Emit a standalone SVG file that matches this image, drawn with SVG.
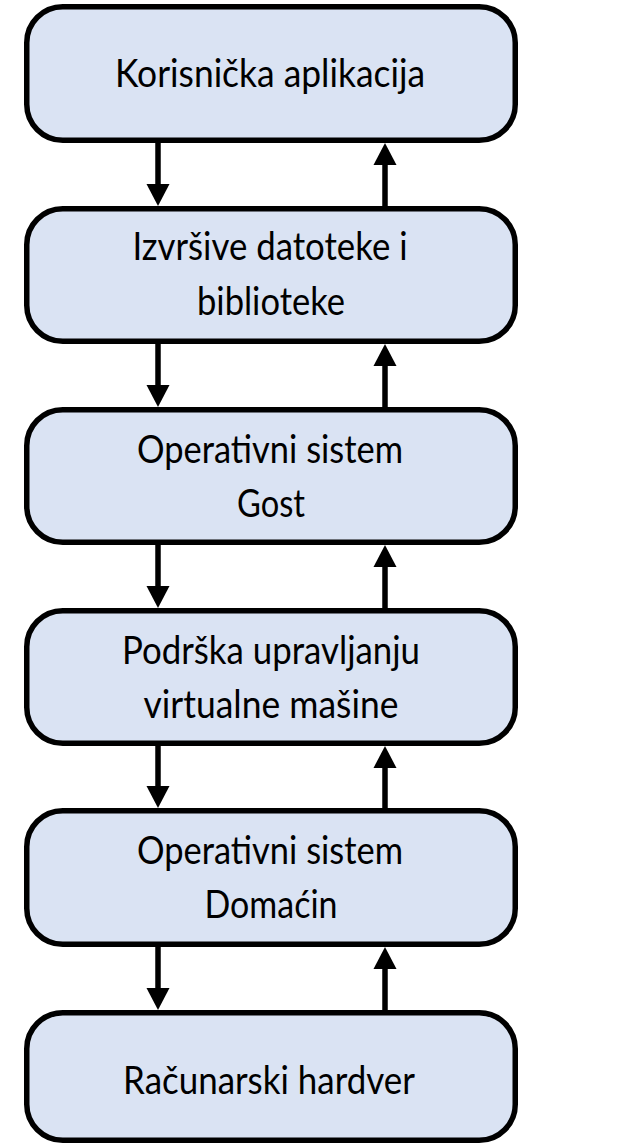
<svg xmlns="http://www.w3.org/2000/svg" width="618" height="1145" viewBox="0 0 618 1145">
  <style>
    .box { fill: #DAE3F3; stroke: #000; stroke-width: 5.5; }
    .lbl { font-family: Lato, "Open Sans", "Liberation Sans", sans-serif; font-size: 38px; fill: #000; text-anchor: middle; }
    .wire { stroke: #000; stroke-width: 5.5; fill: none; }
    .head { fill: #000; }
  </style>
  <rect width="618" height="1145" fill="#fff"/>

  <!-- layers, top to bottom -->
  <g id="korisnicka-aplikacija">
    <rect class="box" x="26.75" y="6.75" width="488.5" height="133.5" rx="36"/>
    <text class="lbl" x="270" y="87" textLength="310" lengthAdjust="spacingAndGlyphs">Korisnička aplikacija</text>
  </g>
  <g id="izvrsive-datoteke">
    <rect class="box" x="26.75" y="208.75" width="488.5" height="132.5" rx="36"/>
    <text class="lbl" x="270" y="260" textLength="275" lengthAdjust="spacingAndGlyphs">Izvršive datoteke i</text>
    <text class="lbl" x="271" y="315" textLength="148" lengthAdjust="spacingAndGlyphs">biblioteke</text>
  </g>
  <g id="os-gost">
    <rect class="box" x="26.75" y="409.75" width="488.5" height="132.5" rx="36"/>
    <text class="lbl" x="270" y="463" textLength="266" lengthAdjust="spacingAndGlyphs">Operativni sistem</text>
    <text class="lbl" x="271" y="517" textLength="68" lengthAdjust="spacingAndGlyphs">Gost</text>
  </g>
  <g id="vm-podrska">
    <rect class="box" x="26.75" y="610.75" width="488.5" height="132.5" rx="36"/>
    <text class="lbl" x="271" y="664" textLength="298" lengthAdjust="spacingAndGlyphs">Podrška upravljanju</text>
    <text class="lbl" x="271" y="718" textLength="255" lengthAdjust="spacingAndGlyphs">virtualne mašine</text>
  </g>
  <g id="os-domacin">
    <rect class="box" x="26.75" y="810.75" width="488.5" height="133.5" rx="36"/>
    <text class="lbl" x="270" y="864" textLength="266" lengthAdjust="spacingAndGlyphs">Operativni sistem</text>
    <text class="lbl" x="271" y="918" textLength="133" lengthAdjust="spacingAndGlyphs">Domaćin</text>
  </g>
  <g id="racunarski-hardver">
    <rect class="box" x="26.75" y="1012.75" width="488.5" height="127.5" rx="36"/>
    <text class="lbl" x="269" y="1094" textLength="292" lengthAdjust="spacingAndGlyphs">Računarski hardver</text>
  </g>

  <!-- calls down (left) and returns up (right) between adjacent layers -->
  <g id="connectors">
    <line class="wire" x1="158" y1="143" x2="158" y2="186"/>
    <polygon class="head" points="146.5,184 169.5,184 158,206"/>
    <line class="wire" x1="385" y1="206" x2="385" y2="163"/>
    <polygon class="head" points="373.5,165 396.5,165 385,143"/>

    <line class="wire" x1="158" y1="344" x2="158" y2="387"/>
    <polygon class="head" points="146.5,385 169.5,385 158,407"/>
    <line class="wire" x1="385" y1="407" x2="385" y2="364"/>
    <polygon class="head" points="373.5,366 396.5,366 385,344"/>

    <line class="wire" x1="158" y1="545" x2="158" y2="588"/>
    <polygon class="head" points="146.5,586 169.5,586 158,608"/>
    <line class="wire" x1="385" y1="608" x2="385" y2="565"/>
    <polygon class="head" points="373.5,567 396.5,567 385,545"/>

    <line class="wire" x1="158" y1="746" x2="158" y2="788"/>
    <polygon class="head" points="146.5,786 169.5,786 158,808"/>
    <line class="wire" x1="385" y1="808" x2="385" y2="766"/>
    <polygon class="head" points="373.5,768 396.5,768 385,746"/>

    <line class="wire" x1="158" y1="947" x2="158" y2="990"/>
    <polygon class="head" points="146.5,988 169.5,988 158,1010"/>
    <line class="wire" x1="385" y1="1010" x2="385" y2="967"/>
    <polygon class="head" points="373.5,969 396.5,969 385,947"/>
  </g>
</svg>
